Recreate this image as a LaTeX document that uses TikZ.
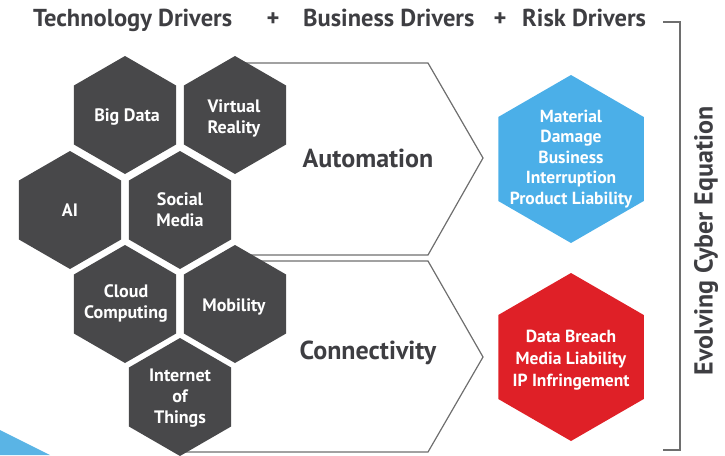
\documentclass[tikz,border=0pt]{standalone}
\usepackage{fontspec}
\setmainfont{PT Sans}
\usetikzlibrary{shapes.geometric}
\definecolor{hexgray}{HTML}{48484A}
\definecolor{txtdark}{HTML}{3E3E42}
\definecolor{hexblue}{HTML}{4BAFE8}
\definecolor{hexred}{HTML}{DF2027}
\definecolor{chevline}{HTML}{6E6E6E}
\definecolor{cornerblue}{HTML}{5AB4E5}
\begin{document}
\begin{tikzpicture}[x=1pt,y=-1pt,
  hexshape/.style={regular polygon, regular polygon sides=6, shape border rotate=30, inner sep=0pt, draw=none},
  hexg/.style={hexshape, fill=hexgray, minimum size=118pt},
  hexbig/.style={hexshape, minimum size=168pt},
  hextxt/.style={text=white, font=\bfseries\fontsize{18}{21}\selectfont, align=center, inner sep=0pt},
  bigtxt/.style={text=white, font=\bfseries\fontsize{17.5}{20.5}\selectfont, align=center, inner sep=0pt},
  headtxt/.style={text=txtdark, font=\bfseries\fontsize{24.5}{28}\selectfont, inner sep=0pt},
  chevtxt/.style={text=txtdark, font=\bfseries\fontsize{26}{30}\selectfont, inner sep=0pt},
  chev/.style={draw=chevline, line width=1.2pt, line join=miter}]
\useasboundingbox (0,0) rectangle (725,455);
% corner triangle
\fill[cornerblue] (0,430) -- (50,455) -- (0,455) -- cycle;
% chevrons
\draw[chev] (245,63) -- (428,63) -- (483,158) -- (428,255) -- (245,255);
\draw[chev] (245,261) -- (428,261) -- (483,357) -- (428,452) -- (182,452);
\node[chevtxt] (auto) at (368,158) {Automation};
\node[chevtxt] (conn) at (368,353) {Connectivity};
% grey hexes
\node[hexg] (bd) at (125,115) {};
\node[hextxt] at (127,117) {Big Data};
\node[hexg] (vr) at (235,115) {};
\node[hextxt] at (234,118) {Virtual\\Reality};
\node[hexg] (ai) at (70,210) {};
\node[hextxt] at (ai) {AI};
\node[hexg] (sm) at (180,210) {};
\node[hextxt] at (180,210) {Social\\Media};
\node[hexg] (cc) at (125,304) {};
\node[hextxt] at (126,303) {Cloud\\Computing};
\node[hexg] (mob) at (235,304) {};
\node[hextxt] at (234,307) {Mobility};
\node[hexg] (iot) at (180,397) {};
\node[hextxt] at (180,398) {Internet\\of\\Things};
% coloured hexes
\node[hexbig, fill=hexblue] (blue) at (571,159) {};
\node[bigtxt] at (blue) {Material\\Damage\\Business\\Interruption\\Product Liability};
\node[hexbig, fill=hexred] (red) at (571,357) {};
\node[bigtxt, font=\bfseries\fontsize{17.5}{22}\selectfont] at (571,360) {Data Breach\\Media Liability\\IP Infringement};
% heading
\node[headtxt, anchor=base west] (tech) at (33,26) {Technology Drivers};
\node[headtxt, anchor=base] (plus1) at (273,26) {+};
\node[headtxt, anchor=base west] (bus) at (303,26) {Business Drivers};
\node[headtxt, anchor=base] (plus2) at (500,26) {+};
\node[headtxt, anchor=base west] (risk) at (522,26) {Risk Drivers};
% bracket
\coordinate (b1) at (663,22);
\coordinate (b2) at (680,22);
\coordinate (b3) at (680,450);
\coordinate (b4) at (663,450);
\draw[chevline, line width=1.2pt] (b1) -- (b2) -- (b3) -- (b4);
\node[headtxt, font=\bfseries\fontsize{26}{30}\selectfont, rotate=90] (evo) at (706,241) {Evolving Cyber Equation};
\end{tikzpicture}
\end{document}
